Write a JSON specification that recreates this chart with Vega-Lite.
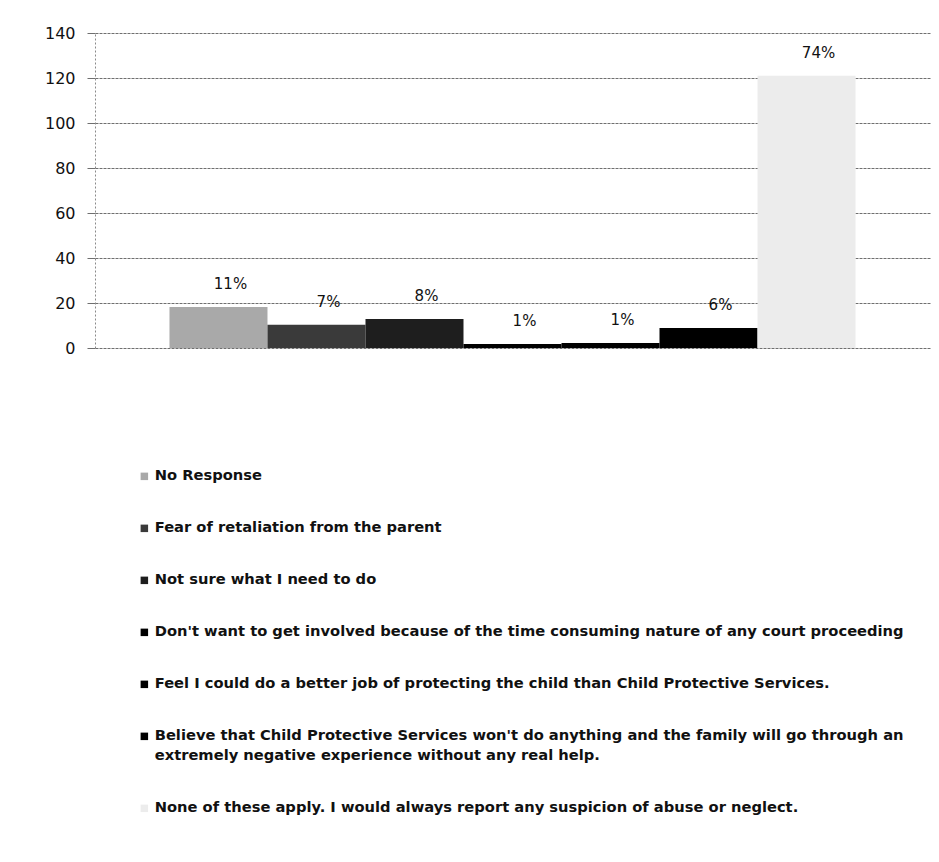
{
  "$schema": "https://vega.github.io/schema/vega-lite/v6.json",
  "width": 835,
  "height": 315,
  "autosize": {"type": "none"},
  "padding": {"left": 95, "top": 33, "right": 9, "bottom": 514},
  "background": "white",
  "config": {"view": {"stroke": null}},
  "data": {
    "values": [
      {"series": "No Response", "value": 18.2, "label": "11%"},
      {"series": "Fear of retaliation  from the parent", "value": 10.3, "label": "7%"},
      {"series": "Not sure what I need to do", "value": 12.9, "label": "8%"},
      {"series": "Don't want to get involved because of the time consuming nature of any court proceeding", "value": 1.8, "label": "1%"},
      {"series": "Feel I could do a better job of protecting the child than  Child Protective Services.", "value": 2.2, "label": "1%"},
      {"series": "Believe that Child Protective Services won't do anything and the family will go through an extremely negative experience without any real help.", "value": 8.9, "label": "6%"},
      {"series": "None of these apply. I would always report any suspicion of abuse or neglect.", "value": 121, "label": "74%"}
    ]
  },
  "encoding": {
    "x": {
      "field": "series",
      "type": "nominal",
      "sort": null,
      "scale": {"paddingInner": 0, "paddingOuter": 0.76},
      "axis": null
    },
    "y": {
      "field": "value",
      "type": "quantitative",
      "scale": {"domain": [0, 140], "nice": false},
      "axis": {
        "title": null,
        "values": [0, 20, 40, 60, 80, 100, 120, 140],
        "grid": true,
        "gridColor": "#6f6f6f",
        "gridDash": [3, 1],
        "gridWidth": 1,
        "domain": true,
        "domainColor": "#8a8a8a",
        "domainDash": [2, 2],
        "tickSize": 8,
        "tickColor": "#6f6f6f",
        "labelFont": "DejaVu Sans",
        "labelFontSize": 16,
        "labelColor": "#111111",
        "labelPadding": 12
      }
    }
  },
  "layer": [
    {
      "mark": {"type": "bar"},
      "encoding": {
        "color": {
          "field": "series",
          "type": "nominal",
          "sort": null,
          "scale": {
            "range": ["#a9a9a9", "#3a3a3a", "#1e1e1e", "#000000", "#000000", "#000000", "#ececec"]
          },
          "legend": {
            "title": null,
            "orient": "none",
            "legendX": 42,
            "legendY": 436,
            "direction": "vertical",
            "symbolType": "square",
            "symbolSize": 56,
            "symbolStrokeWidth": 0,
            "labelFont": "DejaVu Sans",
            "labelFontSize": 14.7,
            "labelFontWeight": "bold",
            "labelColor": "#111111",
            "labelLimit": 900,
            "labelOffset": 3,
            "rowPadding": 36,
            "labelExpr": "datum.label == \"Believe that Child Protective Services won't do anything and the family will go through an extremely negative experience without any real help.\" ? [\"Believe that Child Protective Services won't do anything and the family will go through an\", \"extremely negative experience without any real help.\"] : datum.label",
            "encode": {
              "labels": {
                "update": {
                  "lineHeight": {"value": 20}
                }
              }
            }
          }
        }
      }
    },
    {
      "mark": {"type": "text", "dx": 12, "dy": -23, "font": "DejaVu Sans", "fontSize": 15, "color": "#111111", "baseline": "middle"},
      "encoding": {"text": {"field": "label"}}
    }
  ]
}
